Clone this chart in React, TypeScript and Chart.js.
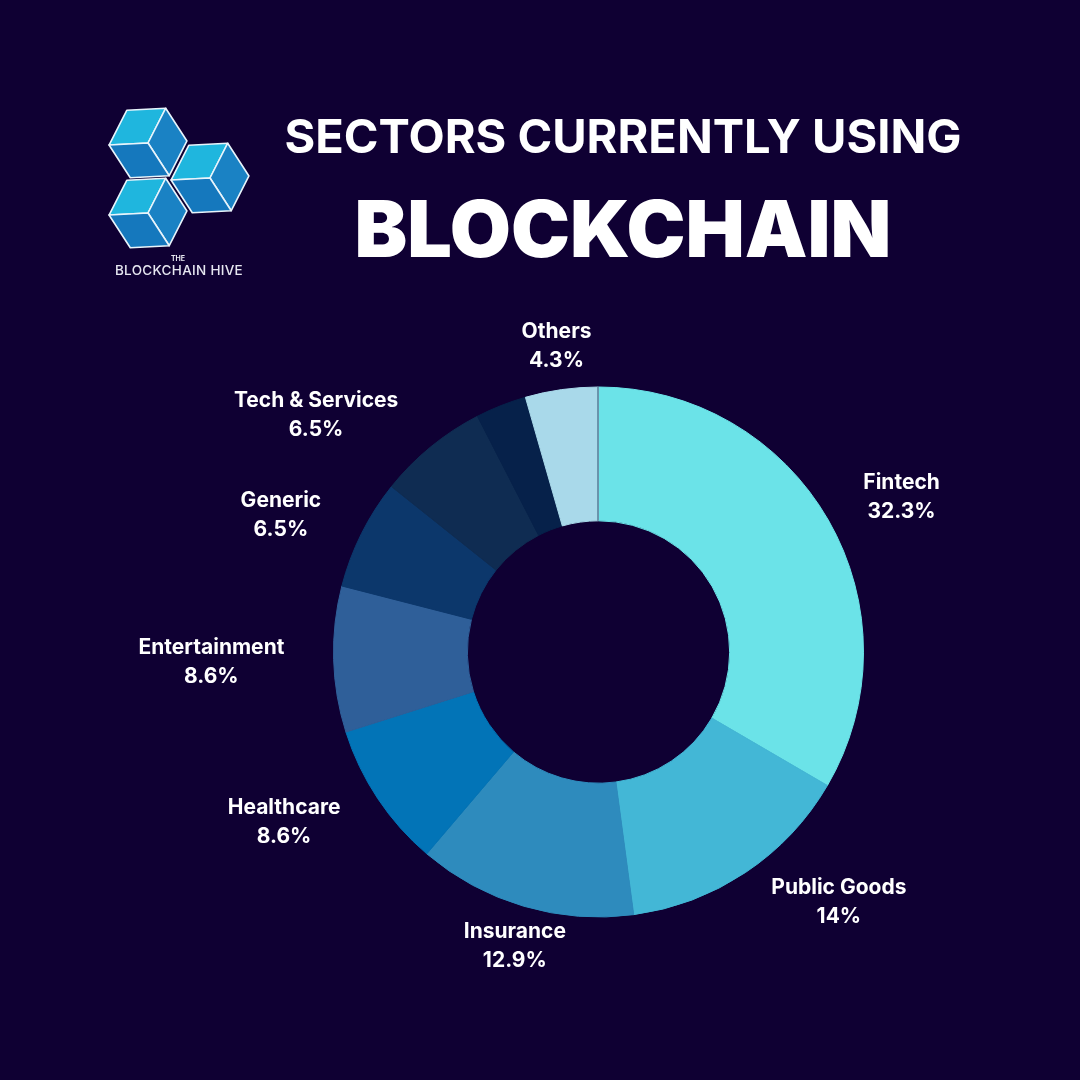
import { useEffect, useRef } from 'react'
import { Chart, registerables, Plugin } from 'chart.js'

Chart.register(...registerables)

const sectors = ['Fintech', 'Public Goods', 'Insurance', 'Healthcare', 'Entertainment', 'Generic', 'Tech & Services', '', 'Others']
const shares = [32.3, 14, 12.9, 8.6, 8.6, 6.5, 6.5, 3.0, 4.3]
const shareLabels = ['32.3%', '14%', '12.9%', '8.6%', '8.6%', '6.5%', '6.5%', '', '4.3%']
const sliceColors = ['#6be3e8', '#43b7d6', '#2e8bbd', '#0274b7', '#2f5f99', '#0c376b', '#0f2c52', '#06214a', '#a9d9ea']

// hand tweaks for label placement, px from the computed spot
const labelNudge = [[9, 14], [48, -38], [8, -18], [-20, -25], [-13, 0], [-12, 16], [-54, 42], [0, 0], [2, 7]]

const BG = '#0f0033'
const FONT = 'Inter, "Open Sans", sans-serif'

// draws the two-line labels outside each slice
const outsideLabels: Plugin<'doughnut'> = {
  id: 'outsideLabels',
  afterDatasetsDraw(chart) {
    const ctx = chart.ctx
    const meta = chart.getDatasetMeta(0)
    ctx.save()
    // thin seam at the start of the ring
    const first = meta.data[0] as any
    if (first) {
      ctx.strokeStyle = '#2b4f6e'
      ctx.lineWidth = 1
      ctx.beginPath()
      ctx.moveTo(first.x - 0.5, first.y - first.innerRadius)
      ctx.lineTo(first.x - 0.5, first.y - first.outerRadius)
      ctx.stroke()
    }
    ctx.fillStyle = '#ffffff'
    ctx.font = `700 21px ${FONT}`
    ctx.textAlign = 'center'
    ctx.textBaseline = 'middle'
    meta.data.forEach((el, i) => {
      const name = sectors[i]
      if (!name) return
      const { x, y, startAngle, endAngle, outerRadius } = el.getProps(
        ['x', 'y', 'startAngle', 'endAngle', 'outerRadius'],
        true
      ) as any
      const mid = (startAngle + endAngle) / 2
      const c = Math.cos(mid)
      const s = Math.sin(mid)
      const w = Math.max(ctx.measureText(name).width, ctx.measureText(shareLabels[i]).width)
      const dist = outerRadius + 36 + Math.abs(c) * (w / 2) + Math.abs(s) * 10
      const cx = x + c * dist + labelNudge[i][0]
      const cy = y + s * dist + labelNudge[i][1]
      ctx.fillText(name, cx, cy - 14.5)
      ctx.fillText(shareLabels[i], cx, cy + 14.5)
    })
    ctx.restore()
  },
}

function Cube({ x, y }: { x: number; y: number }) {
  const r = 39
  const pts = (a: number[][]) => a.map(p => `${p[0]},${p[1]}`).join(' ')
  const v = (deg: number) => {
    const rad = (deg * Math.PI) / 180
    return [r * Math.cos(rad), r * Math.sin(rad)]
  }
  const top = [v(180), v(-120), v(-60), [0, 0]]
  const right = [[0, 0], v(-60), v(0), v(60)]
  const bottom = [v(180), [0, 0], v(60), v(120)]
  return (
    <g transform={`translate(${x},${y}) rotate(-3)`} stroke="#e8f4fb" strokeWidth={1.6} strokeLinejoin="round">
      <polygon points={pts(top)} fill="#1fb6de" />
      <polygon points={pts(right)} fill="#1a82c4" />
      <polygon points={pts(bottom)} fill="#1578bd" />
    </g>
  )
}

function Logo() {
  return (
    <svg width={180} height={200} style={{ position: 'absolute', left: 90, top: 90 }}>
      <Cube x={58} y={53} />
      <Cube x={120} y={88} />
      <Cube x={58} y={123} />
      <text x={88} y={171} fill="#e6e6f0" fontSize={7} fontWeight={700} textAnchor="middle" fontFamily={FONT}>THE</text>
      <text x={89} y={185} fill="#e6e6f0" fontSize={13.5} fontWeight={500} textAnchor="middle" fontFamily={FONT} letterSpacing={0.3}>BLOCKCHAIN HIVE</text>
    </svg>
  )
}

export default function App() {
  const canvasRef = useRef<HTMLCanvasElement>(null)
  const chartRef = useRef<Chart | null>(null)

  useEffect(() => {
    document.body.style.margin = '0'
    if (!canvasRef.current) return
    if (chartRef.current) chartRef.current.destroy()

    chartRef.current = new Chart(canvasRef.current, {
      type: 'doughnut',
      data: {
        labels: sectors,
        datasets: [
          {
            data: shares,
            backgroundColor: sliceColors,
            borderColor: sliceColors,
            borderWidth: 1,
            hoverOffset: 0,
            offset: 0,
          },
        ],
      },
      options: {
        animation: false,
        responsive: false,
        cutout: '49.5%',
        layout: { padding: { left: 333, right: 216, top: 386, bottom: 162 } },
        plugins: {
          legend: { display: false },
          tooltip: { enabled: false },
        },
      },
      plugins: [outsideLabels],
    })

    return () => {
      if (chartRef.current) {
        chartRef.current.destroy()
        chartRef.current = null
      }
    }
  }, [])

  return (
    <div style={{ position: 'relative', width: 1080, height: 1080, background: BG, overflow: 'hidden', fontFamily: FONT }}>
      <canvas ref={canvasRef} width={1080} height={1080} style={{ position: 'absolute', left: 0, top: 0 }} />
      <Logo />
      <div
        style={{
          position: 'absolute',
          left: 223,
          width: 800,
          top: 104,
          textAlign: 'center',
          color: '#ffffff',
          fontWeight: 700,
          fontSize: 47,
          lineHeight: '64px',
          whiteSpace: 'nowrap',
        }}
      >
        SECTORS CURRENTLY USING
      </div>
      <div
        style={{
          position: 'absolute',
          left: 223,
          width: 800,
          top: 178,
          textAlign: 'center',
          color: '#ffffff',
          fontWeight: 900,
          fontSize: 79,
          lineHeight: '100px',
          whiteSpace: 'nowrap',
        }}
      >
        BLOCKCHAIN
      </div>
    </div>
  )
}
